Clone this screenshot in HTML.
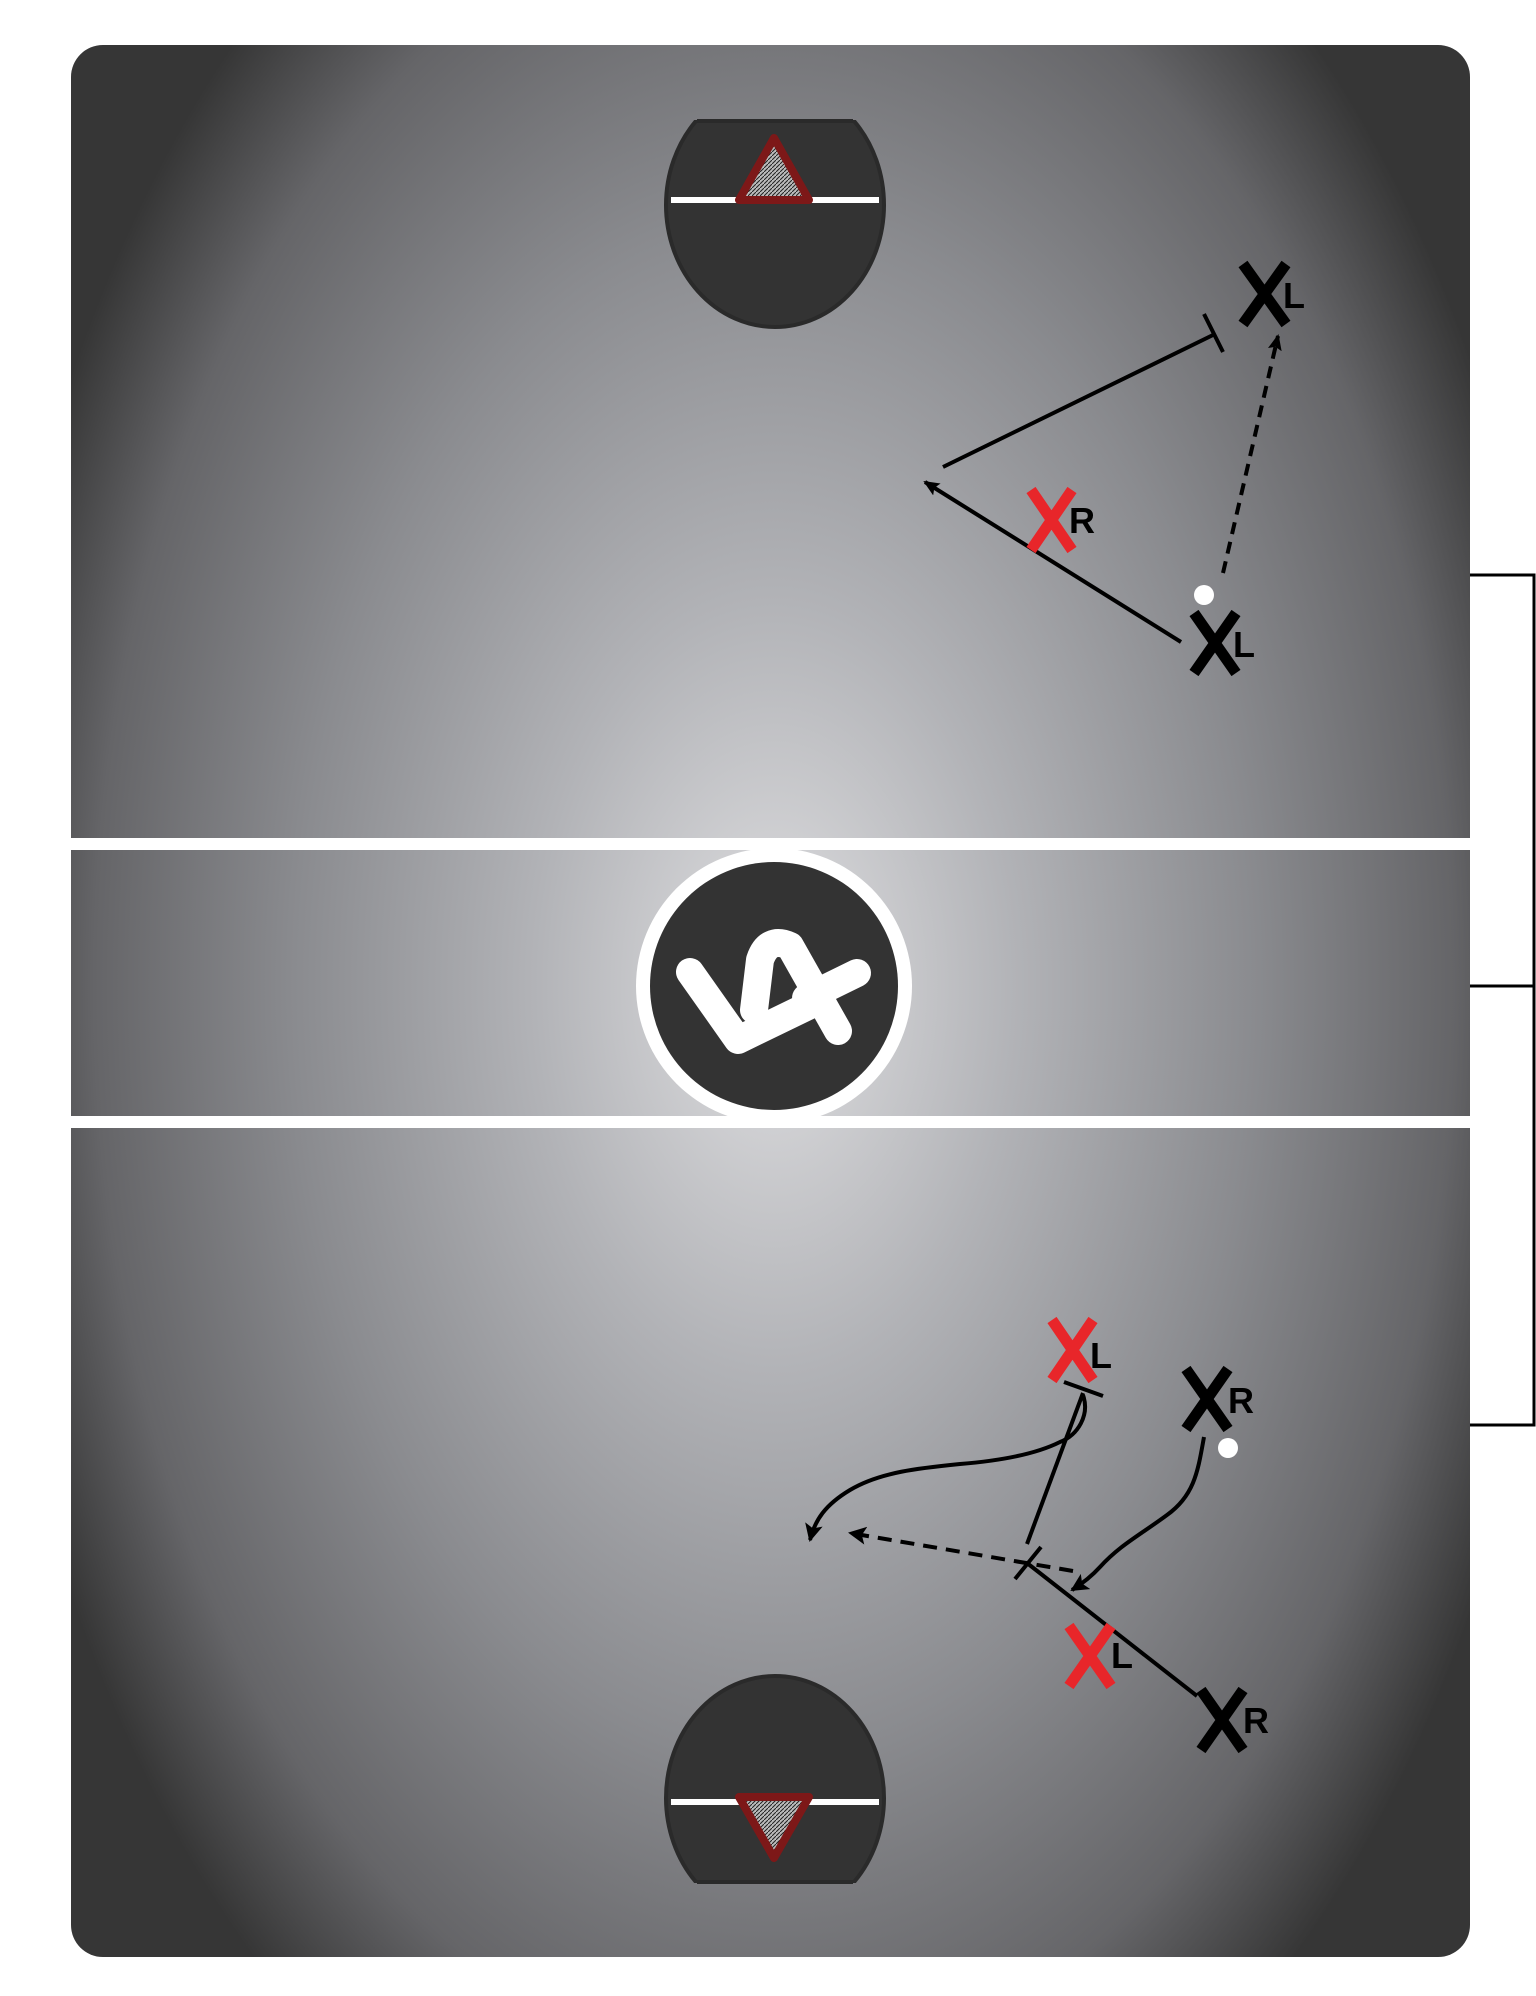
<!DOCTYPE html>
<html><head><meta charset="utf-8"><style>
html,body{margin:0;padding:0;background:#fff;width:1536px;height:1996px;overflow:hidden}
svg{display:block}
text{font-family:"Liberation Sans",sans-serif;font-weight:bold}
</style></head><body>
<svg width="1536" height="1996" viewBox="0 0 1536 1996" xmlns="http://www.w3.org/2000/svg">
<defs>
<radialGradient id="bg" cx="774" cy="986" r="800" gradientUnits="userSpaceOnUse" gradientTransform="translate(774 986) scale(1 1.6) translate(-774 -986)">
<stop offset="0" stop-color="#e0e0e2"/>
<stop offset="0.3" stop-color="#b2b3b7"/>
<stop offset="0.6" stop-color="#8a8b8f"/>
<stop offset="0.85" stop-color="#656568"/>
<stop offset="1" stop-color="#363636"/>
</radialGradient>
<pattern id="st" width="4" height="4" patternUnits="userSpaceOnUse"><rect width="4" height="4" fill="#bbb"/><path d="M0 4L4 0" stroke="#222" stroke-width="1"/></pattern>
<marker id="ah" markerWidth="16" markerHeight="16" refX="14" refY="8" orient="auto" markerUnits="userSpaceOnUse" viewBox="0 0 16 16"><path d="M0 1L16 8L0 15L3 8z" fill="#000"/></marker>
<marker id="ah2" markerWidth="18" markerHeight="18" refX="16" refY="9" orient="auto" markerUnits="userSpaceOnUse" viewBox="0 0 18 18"><path d="M0 0L18 9L0 18L4 9z" fill="#000"/></marker>
<clipPath id="ct"><rect x="600" y="120" width="350" height="300"/></clipPath>
<clipPath id="cb"><rect x="600" y="1580" width="350" height="303"/></clipPath>
</defs>
<path d="M1470 575H1534V1425H1470M1470 986H1534" fill="none" stroke="#000" stroke-width="3"/>
<rect x="71" y="45" width="1399" height="1912" rx="32" fill="url(#bg)"/>
<rect x="71" y="838" width="1399" height="12" fill="#fff"/>
<rect x="71" y="1116" width="1399" height="12" fill="#fff"/>
<g clip-path="url(#ct)"><ellipse cx="775" cy="205" rx="109" ry="122" fill="#333" stroke="#2a2a2a" stroke-width="4"/></g>
<line x1="697" y1="121" x2="853" y2="121" stroke="#2a2a2a" stroke-width="4"/>
<rect x="671" y="197" width="208" height="6" fill="#fff"/>
<path d="M774 138 L739 200 L809 200 Z" fill="url(#st)" stroke="#7d1818" stroke-width="8" stroke-linejoin="round"/>
<g clip-path="url(#cb)"><ellipse cx="775" cy="1798" rx="109" ry="122" fill="#333" stroke="#2a2a2a" stroke-width="4"/></g>
<line x1="697" y1="1882" x2="853" y2="1882" stroke="#2a2a2a" stroke-width="4"/>
<rect x="671" y="1799" width="208" height="6" fill="#fff"/>
<path d="M774 1858 L739 1797 L809 1797 Z" fill="url(#st)" stroke="#7d1818" stroke-width="8" stroke-linejoin="round"/>
<circle cx="774" cy="986" r="138" fill="#fff"/>
<circle cx="774" cy="986" r="124" fill="#333"/>
<g fill="none" stroke="#fff" stroke-width="28" stroke-linecap="round" stroke-linejoin="round">
<path d="M690 972 L738 1040 L808 1006"/>
<path d="M754 1010 L760 960 Q768 936 790 946 L838 1031"/>
<path d="M806 998 L857 973"/>
</g>
<g stroke="#000" stroke-width="4" fill="none">
<line x1="943" y1="467" x2="1213" y2="335"/>
<line x1="1204" y1="314" x2="1223" y2="352"/>
<line x1="1181" y1="642" x2="925" y2="482" marker-end="url(#ah)"/>
<line x1="1223" y1="573" x2="1278" y2="336" stroke-dasharray="12 8" marker-end="url(#ah)"/>
</g>
<g stroke="#000" stroke-width="4" fill="none">
<line x1="1064" y1="1382" x2="1103" y2="1396"/>
<line x1="1083" y1="1393" x2="1027" y2="1544"/>
<line x1="1015" y1="1579" x2="1041" y2="1547"/>
<line x1="1027" y1="1563" x2="1197" y2="1696"/>
<line x1="1073" y1="1571" x2="850" y2="1533" stroke-dasharray="14 9" marker-end="url(#ah2)"/>
<path d="M1083 1395 C1090 1415 1078 1435 1060 1442 C1040 1452 1010 1460 960 1464 C920 1468 880 1472 850 1490 C825 1505 815 1520 810 1540" marker-end="url(#ah2)"/>
<path d="M1204 1437 C1198 1470 1195 1495 1167 1515 C1140 1535 1120 1545 1100 1567 C1090 1578 1080 1585 1072 1590" marker-end="url(#ah2)"/>
</g>
<g stroke-width="11" stroke-linecap="butt">
<g stroke="#000"><path d="M1243 264L1286 324M1286 264L1243 324"/></g>
<g stroke="#000"><path d="M1194 613L1236 673M1236 613L1194 673"/></g>
<g stroke="#e8262a"><path d="M1031 490L1072 550M1072 490L1031 550"/></g>
<g stroke="#e8262a"><path d="M1052 1320L1093 1380M1093 1320L1052 1380"/></g>
<g stroke="#000"><path d="M1186 1369L1228 1429M1228 1369L1186 1429"/></g>
<g stroke="#e8262a"><path d="M1069 1626L1111 1686M1111 1626L1069 1686"/></g>
<g stroke="#000"><path d="M1201 1690L1243 1750M1243 1690L1201 1750"/></g>
</g>
<g font-size="36" fill="#000">
<text x="1283" y="308">L</text>
<text x="1233" y="657">L</text>
<text x="1069" y="533">R</text>
<text x="1090" y="1368">L</text>
<text x="1228" y="1413">R</text>
<text x="1111" y="1668">L</text>
<text x="1243" y="1733">R</text>
</g>
<circle cx="1204" cy="595" r="10" fill="#fff"/>
<circle cx="1228" cy="1448" r="10" fill="#fff"/>
</svg>
</body></html>
